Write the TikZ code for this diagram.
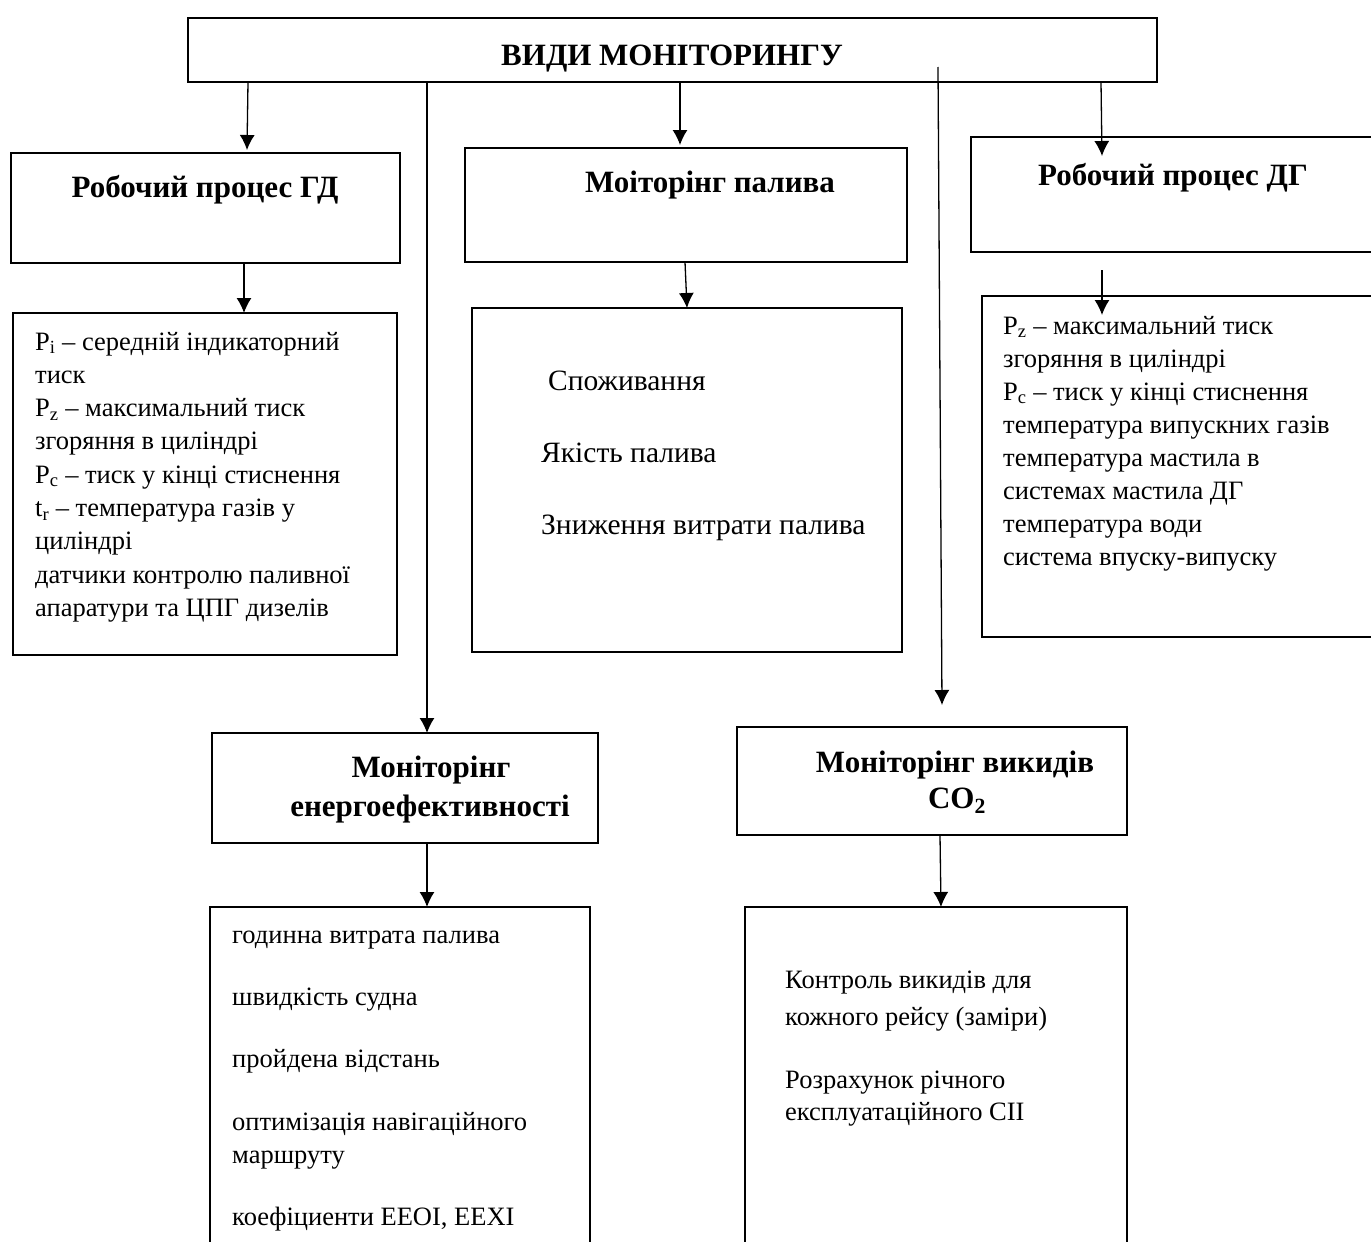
\documentclass[tikz,border=0pt]{standalone}
\usepackage{fontspec}
\setmainfont{Liberation Serif}
\usetikzlibrary{arrows.meta}
\begin{document}
\begin{tikzpicture}[x=1pt,y=-1pt,
  box/.style={draw, line width=2.5pt, inner sep=0pt, outer sep=0pt, anchor=north west},
  conn/.style={line width=1.3pt, -{Latex[length=15pt,width=15pt]}},
  head/.style={font=\bfseries\fontsize{31}{39}\selectfont, inner sep=0pt, anchor=base},
  body/.style={font=\fontsize{26.5}{33.3}\selectfont, inner sep=0pt, anchor=base west},
  bodybig/.style={font=\fontsize{29.5}{36}\selectfont, inner sep=0pt, anchor=base west}]
\clip (0,0) rectangle (1371,1242);
\fill[white] (0,0) rectangle (1371,1242);
% boxes
\node[box, minimum width=969pt, minimum height=64pt] (top) at (188,18) {};
\node[box, minimum width=389pt, minimum height=110pt] (b1) at (11,153) {};
\node[box, minimum width=442pt, minimum height=114pt] (b2) at (465,148) {};
\node[box, minimum width=450pt, minimum height=115pt] (b3) at (971,137) {};
\node[box, minimum width=384pt, minimum height=342pt] (d1) at (13,313) {};
\node[box, minimum width=430pt, minimum height=344pt] (d2) at (472,308) {};
\node[box, minimum width=450pt, minimum height=341pt] (d3) at (982,296) {};
\node[box, minimum width=386pt, minimum height=110pt] (e) at (212,733) {};
\node[box, minimum width=390pt, minimum height=108pt] (f) at (737,727) {};
\node[box, minimum width=380pt, minimum height=400pt] (d4) at (210,907) {};
\node[box, minimum width=382pt, minimum height=400pt] (d5) at (745,907) {};
% headings
\node[head] (topt) at (672,65) {ВИДИ МОНІТОРИНГУ};
\node[head] (b1t) at (205,197) {Робочий процес ГД};
\node[head] (b2t) at (710,192) {Моіторінг палива};
\node[head] (b3t) at (1173,185) {Робочий процес ДГ};
\node[head] (et1) at (431,777) {Моніторінг};
\node[head] (et2) at (430,816) {енергоефективності};
\node[head] (ft1) at (955,772) {Моніторінг викидів};
\node[head] (ft2) at (957,808) {CO\textsubscript{2}};
% body texts
\node[body] (d1t) at (35,350) {\parbox[t]{370pt}{\fontsize{26.5}{33.3}\selectfont\raggedright
P\textsubscript{i} – середній індикаторний\\
тиск\\
P\textsubscript{z} – максимальний тиск\\
згоряння в циліндрі\\
P\textsubscript{c} – тиск у кінці стиснення\\
t\textsubscript{r} – температура газів у\\
циліндрі\\
датчики контролю паливної\\
апаратури та ЦПГ дизелів}};
\node[body] (d3t) at (1003,334) {\parbox[t]{370pt}{\fontsize{26.5}{33}\selectfont\raggedright
P\textsubscript{z} – максимальний тиск\\
згоряння в циліндрі\\
P\textsubscript{c} – тиск у кінці стиснення\\
температура випускних газів\\
температура мастила в\\
системах мастила ДГ\\
температура води\\
система впуску-випуску}};
\node[bodybig] (d2a) at (548,390) {Споживання};
\node[bodybig] (d2b) at (541,462) {Якість палива};
\node[bodybig] (d2c) at (541,534) {Зниження витрати палива};
\node[body] (d4a) at (232,943) {годинна витрата палива};
\node[body] (d4b) at (232,1005) {швидкість судна};
\node[body] (d4c) at (232,1067) {пройдена відстань};
\node[body] (d4d) at (232,1130) {оптимізація навігаційного};
\node[body] (d4e) at (232,1163) {маршруту};
\node[body] (d4f) at (232,1225) {коефіциенти EEOI, EEXI};
\node[body] (d5a) at (785,988) {Контроль викидів для};
\node[body] (d5b) at (785,1025) {кожного рейсу (заміри)};
\node[body] (d5c) at (785,1088) {Розрахунок річного};
\node[body] (d5d) at (785,1120) {експлуатаційного CII};
% connectors
\draw[conn] ([xshift=60pt]top.south west) -- ([xshift=236pt,yshift=3pt]b1.north west);
\draw[conn] ([xshift=239pt]top.south west) -- ([xshift=215pt]e.north west);
\draw[conn] ([xshift=492pt]top.south west) -- ([xshift=215pt,yshift=3pt]b2.north west);
\draw[conn] ([xshift=750pt,yshift=15pt]top.south west) -- ([xshift=205pt,yshift=22pt]f.north west);
\draw[conn] ([xshift=913pt]top.south west) -- ([xshift=131pt,yshift=-19pt]b3.north west);
\draw[conn] ([xshift=233pt]b1.south west) -- ([xshift=231pt]d1.north west);
\draw[conn] ([xshift=220pt]b2.south west) -- ([xshift=215pt]d2.north west);
\draw[conn] ([xshift=131pt,yshift=-18pt]b3.south west) -- ([xshift=120pt,yshift=-19pt]d3.north west);
\draw[conn] ([xshift=215pt]e.south west) -- ([xshift=217pt]d4.north west);
\draw[conn] ([xshift=203pt]f.south west) -- ([xshift=196pt]d5.north west);
\end{tikzpicture}
\end{document}
